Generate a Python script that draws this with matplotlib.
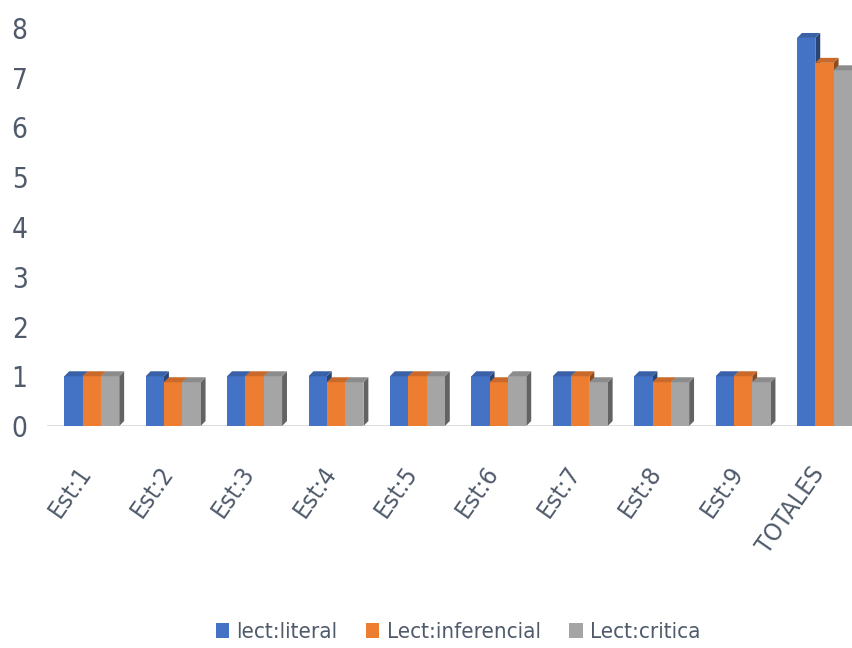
import numpy as np
import matplotlib.pyplot as plt
from matplotlib.patches import Polygon
from matplotlib.colors import to_rgb

plt.rcParams['font.family'] = ['DejaVu Sans']
plt.rcParams['font.stretch'] = 'condensed'

# data
categories = ['Est:1', 'Est:2', 'Est:3', 'Est:4', 'Est:5',
              'Est:6', 'Est:7', 'Est:8', 'Est:9', 'TOTALES']
literal = [1, 1, 1, 1, 1, 1, 1, 1, 1, 7.8]
inferencial = [1, 0.88, 1, 0.88, 1, 0.88, 1, 0.88, 1, 7.3]
critica = [1, 0.88, 1, 0.88, 1, 1, 0.88, 0.88, 0.88, 7.15]
series_names = ['lect:literal', 'Lect:inferencial', 'Lect:critica']
colors = ['#4472C4', '#ED7D31', '#A5A5A5']
text_color = '#4F5A6B'


def shade(c, f):
    r, g, b = to_rgb(c)
    if f < 1:
        return (r * f, g * f, b * f)
    return (r + (1 - r) * (f - 1), g + (1 - g) * (f - 1), b + (1 - b) * (f - 1))


def bar3d(ax, xs, hs, w, color, dx, dy, z, label):
    bars = ax.bar(xs, hs, w, color=color, zorder=z + 0.1, label=label,
                  linewidth=0)
    for b in bars:
        x0 = b.get_x()
        x1 = x0 + b.get_width()
        h = b.get_height()
        side = Polygon([(x1, 0), (x1 + dx, dy), (x1 + dx, h + dy), (x1, h)],
                       closed=True, facecolor=shade(color, 0.6),
                       linewidth=0, zorder=z)
        top = Polygon([(x0, h), (x0 + dx, h + dy), (x1 + dx, h + dy), (x1, h)],
                      closed=True, facecolor=shade(color, 0.85),
                      linewidth=0, zorder=z + 0.2)
        ax.add_patch(side)
        ax.add_patch(top)


fig = plt.figure(figsize=(8.53, 6.48), dpi=100)
ax = fig.add_axes([47 / 853, 1 - 426 / 648, 1 - 47 / 853, (426 - 28) / 648])

x = np.arange(len(categories))
w = 0.225
dx, dy = 0.06, 0.1
all_series = [literal, inferencial, critica]
for i, (vals, c, name) in enumerate(zip(all_series, colors, series_names)):
    bar3d(ax, x + (i - 1) * w, vals, w, c, dx, dy, 2 + i, name)

ax.axhline(0, color='#D9D9D9', linewidth=1.2, zorder=1)
ax.set_xlim(-0.55, 9.35)
ax.set_ylim(0, 8)
ax.set_yticks(range(0, 9))
# rotated labels lean right of their anchor, so anchor them a bit left
ax.set_xticks(x - 0.18)
ax.set_xticklabels(categories, rotation=55, ha='right', va='top',
                   rotation_mode='anchor', fontsize=18, color=text_color)
ax.tick_params(axis='y', length=0, pad=14, labelsize=20, labelcolor=text_color)
ax.tick_params(axis='x', length=0, pad=26)
for s in ax.spines.values():
    s.set_visible(False)

fig.legend(loc='center', bbox_to_anchor=(0.537, 1 - 632 / 648), ncol=3,
           frameon=False, fontsize=16, handlelength=0.6, handleheight=0.65,
           handletextpad=0.32, columnspacing=1.3, labelcolor=text_color)

fig.savefig('out.png', dpi=100)
